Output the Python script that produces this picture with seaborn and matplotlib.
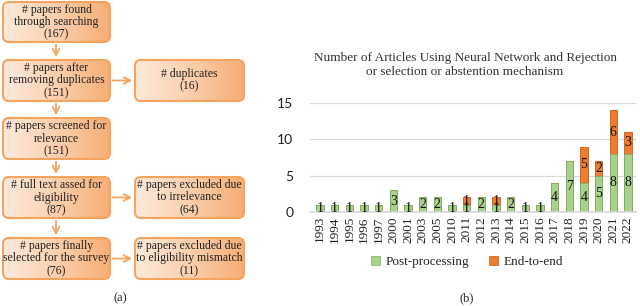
import numpy as np
import matplotlib
matplotlib.use("Agg")
import matplotlib.pyplot as plt
import seaborn as sns
from matplotlib.patches import FancyBboxPatch, Patch
from matplotlib.colors import LinearSegmentedColormap

# ---- Data ----
years = ["1993", "1994", "1995", "1996", "1997", "2000", "2001", "2003", "2005", "2010", "2011",
         "2012", "2013", "2014", "2015", "2016", "2017", "2018", "2019", "2020", "2021", "2022"]
post_processing = [1, 1, 1, 1, 1, 3, 1, 2, 2, 1, 1, 2, 1, 2, 1, 1, 4, 7, 4, 5, 8, 8]
end_to_end = [0, 0, 0, 0, 0, 0, 0, 0, 0, 0, 1, 0, 1, 0, 0, 0, 0, 0, 5, 2, 6, 3]

flow_main = ["# papers found\nthrough searching\n(167)",
             "# papers after\nremoving duplicates\n(151)",
             "# papers screened for\nrelevance\n(151)",
             "# full text assed for\neligibility\n(87)",
             "# papers finally\nselected for the survey\n(76)"]
flow_side = {1: "# duplicates\n(16)",
             3: "# papers excluded due\nto irrelevance\n(64)",
             4: "# papers excluded due\nto eligibility mismatch\n(11)"}

title = "Number of Articles Using Neural Network and Rejection\nor selection or abstention mechanism"

# ---- Style ----
sns.set_theme(style="white")
serif = ["Liberation Serif", "DejaVu Serif"]
plt.rcParams['font.family'] = serif

GREEN = "#a9d18e"
GREEN_DARK = "#7fae62"
ORANGE = "#ed7d31"
ORANGE_DARK = "#c55a11"
BOX_EDGE = "#f5a35f"

fig = plt.figure(figsize=(6.4, 3.06), dpi=100)

# ---- Panel (a): flowchart, drawn in pixel coordinates ----
fa = fig.add_axes([0, 0, 1, 1])
fa.set_xlim(0, 640)
fa.set_ylim(306, 0)
fa.axis("off")

grad = LinearSegmentedColormap.from_list("g", ["#fdeadc", "#fbcfae", "#f7ae76"])
main_x = (3, 110)
side_x = (135, 244)
rows = [(2, 42), (60, 101), (118, 159), (177, 218), (238, 279)]


def box(x0, x1, y0, y1, text):
    p = FancyBboxPatch((x0, y0), x1 - x0, y1 - y0, boxstyle="round,pad=0,rounding_size=6",
                       facecolor="none", edgecolor=BOX_EDGE, linewidth=1.5, zorder=3)
    fa.add_patch(p)
    im = fa.imshow(np.linspace(0, 1, 100).reshape(1, -1), cmap=grad, aspect="auto",
                   extent=(x0, x1, y1, y0), zorder=2)
    im.set_clip_path(p)
    fa.text((x0 + x1) / 2, (y0 + y1) / 2, text, ha="center", va="center",
            fontsize=8.5, linespacing=1.05, color="#222222", zorder=4)


for i, t in enumerate(flow_main):
    y0, y1 = rows[i]
    box(main_x[0], main_x[1], y0, y1, t)
    if i < len(flow_main) - 1:
        fa.annotate("", xy=(56, rows[i + 1][0]), xytext=(56, y1),
                    arrowprops=dict(arrowstyle="->", color=BOX_EDGE, lw=1.3))
for i, t in flow_side.items():
    y0, y1 = rows[i]
    box(side_x[0], side_x[1], y0, y1, t)
    ym = (y0 + y1) / 2
    fa.annotate("", xy=(side_x[0], ym), xytext=(main_x[1], ym),
                arrowprops=dict(arrowstyle="->", color=BOX_EDGE, lw=1.3))

fa.text(120, 298, "(a)", ha="center", va="center", fontsize=9)
fa.text(467, 298, "(b)", ha="center", va="center", fontsize=9)

# ---- Panel (b): stacked bars ----
ax = fig.add_axes([310 / 640, 94 / 306, 326 / 640, 109 / 306])
total = [p + e for p, e in zip(post_processing, end_to_end)]
sns.barplot(x=years, y=total, color=ORANGE, saturation=1, width=0.5,
            edgecolor=ORANGE_DARK, linewidth=0.6, ax=ax)
sns.barplot(x=years, y=post_processing, color=GREEN, saturation=1, width=0.5,
            edgecolor=GREEN_DARK, linewidth=0.6, ax=ax)

for i, (p, e) in enumerate(zip(post_processing, end_to_end)):
    ax.text(i, p / 2, str(p), ha="center", va="center", fontsize=10, color="#111111")
    if e:
        ax.text(i, p + e / 2, str(e), ha="center", va="center", fontsize=10, color="#111111")

ax.set_xlim(-0.68, 21.55)
ax.set_ylim(0, 15)
ax.set_yticks([0, 5, 10, 15])
ax.yaxis.grid(True, color="#d9d9d9", linewidth=0.9)
ax.set_axisbelow(True)
for s in ["top", "right", "left"]:
    ax.spines[s].set_visible(False)
ax.spines["bottom"].set_color("#d9d9d9")
ax.tick_params(axis="y", length=0, pad=12)
ax.tick_params(axis="x", length=0, pad=3)
for lab in ax.get_yticklabels():
    lab.set_fontfamily(["Lato", "DejaVu Sans"])
    lab.set_fontsize(10)
    lab.set_color("#222222")
for lab in ax.get_xticklabels():
    lab.set_rotation(90)
    lab.set_fontsize(9.5)
    lab.set_color("#222222")
ax.set_xlabel("")
ax.set_ylabel("")

fig.text(465 / 640, 1 - 65 / 306, title, ha="center", va="center", fontsize=9.5,
         linespacing=1.15, color="#333333")

handles = [Patch(facecolor=GREEN, edgecolor=GREEN_DARK, linewidth=0.5),
           Patch(facecolor=ORANGE, edgecolor=ORANGE_DARK, linewidth=0.5)]
fig.legend(handles, ["Post-processing", "End-to-end"], loc="center",
           bbox_to_anchor=(467 / 640, 1 - 262 / 306), ncol=2, frameon=False,
           handlelength=0.7, handleheight=0.7, handletextpad=0.4, columnspacing=1.5,
           prop={"size": 9.5})

fig.savefig("out.png", dpi=100)
